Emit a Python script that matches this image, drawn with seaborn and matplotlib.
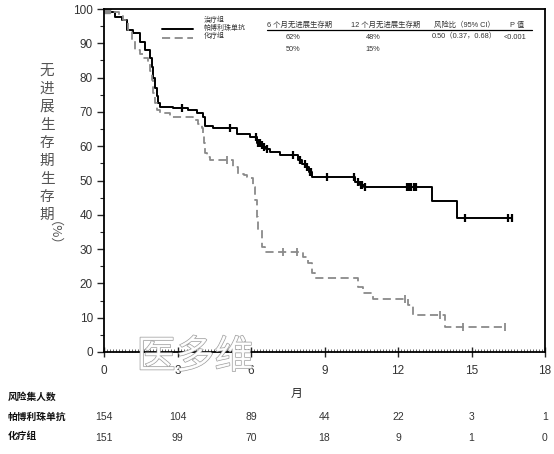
import matplotlib
matplotlib.use("Agg")
import matplotlib.pyplot as plt
import matplotlib.patheffects as pe
from matplotlib.ticker import MultipleLocator
import seaborn as sns

# ---------------- data ----------------
# pembrolizumab arm: KM steps (time in months, PFS %)
pembro_t = [0, 0.24, 0.45, 0.72, 0.93, 1.2, 1.47, 1.67, 1.88, 1.95, 2.0, 2.08, 2.15, 2.2,
            2.29, 2.56, 2.83, 3.44, 3.78, 4.04, 4.12, 4.46, 5.41, 5.96, 6.25, 6.4, 6.5,
            6.6, 6.78, 7.18, 7.9, 8.1, 8.25, 8.35, 8.48, 10.25, 10.45, 10.6, 13.37, 14.4, 16.64]
pembro_s = [100, 99, 97.8, 96.8, 94, 93, 90.5, 88, 85.7, 83, 80, 77, 74.5, 72.5,
            71.5, 71.3, 71, 70.5, 69.6, 68.6, 66, 65.2, 63.7, 62.8, 61, 60.3, 59.8,
            59.2, 58.4, 57.4, 56, 54.8, 53.8, 52.5, 51.1, 49.5, 48.7, 48, 43.9, 39.2, 39.2]
pembro_cens_t = [3.17, 5.14, 6.2, 6.3, 6.35, 6.45, 6.55, 6.65, 7.73, 8.0, 8.2, 8.3, 8.4, 8.45,
                 9.12, 10.2, 10.35, 10.5, 10.55, 10.65, 12.35, 12.45, 12.55, 12.65, 12.75,
                 14.73, 16.5, 16.64]
pembro_cens_s = [71, 65.2, 62.8, 61, 61, 60.3, 59.8, 59.2, 57.4, 56, 54.8, 53.8, 52.5, 52.5,
                 51.1, 51.1, 49.5, 48.7, 48.7, 48, 48, 48, 48, 48, 48,
                 39.2, 39.2, 39.2]

# chemotherapy arm
chemo_t = [0, 0.38, 0.6, 0.79, 0.99, 1.13, 1.27, 1.47, 1.6, 1.81, 1.88, 1.95, 2.0, 2.08,
           2.15, 2.29, 2.69, 3.37, 3.64, 3.85, 3.99, 4.06, 4.1, 4.12, 4.19, 4.33, 5.28,
           5.48, 5.7, 5.85, 5.96, 6.09, 6.16, 6.23, 6.3, 6.44, 6.57, 8.13, 8.34, 8.48,
           8.61, 10.38, 10.58, 10.99, 12.42, 12.62, 13.92, 16.37]
chemo_s = [100, 99.2, 98, 96.8, 94, 91, 88, 87, 85.6, 84.6, 82, 79.3, 75.4, 72.5,
           70.5, 69.6, 68.6, 68.4, 67.6, 66.6, 65.2, 63.7, 61, 57.9, 56.9, 56, 54,
           52, 51.5, 51, 50.6, 48.2, 44.3, 39.5, 35.6, 30.7, 29.3, 27.8, 25.9, 23,
           21.5, 19, 17.1, 15.5, 13.7, 10.8, 7.4, 7.4]
chemo_cens_t = [5.0, 7.32, 7.86, 12.29, 13.71, 14.67, 16.37]
chemo_cens_s = [56, 29.3, 29.3, 15.5, 10.8, 7.4, 7.4]

# number at risk
risk_times = [0, 3, 6, 9, 12, 15, 18]
risk_pembro = [154, 104, 89, 44, 22, 3, 1]
risk_chemo = [151, 99, 70, 18, 9, 1, 0]

group_names = ["帕博利珠单抗", "化疗组"]
col_headers = ["6 个月无进展生存期", "12 个月无进展生存期", "风险比（95% CI）", "P 值"]
pfs6 = ["62%", "50%"]
pfs12 = ["48%", "15%"]
hr_text = "0.50（0.37，0.68）"
p_text = "<0.001"

BLACK = "#000000"
GREY = "#8a8a8a"

# ---------------- figure ----------------
sns.set_theme(style="ticks")
plt.rcParams["font.family"] = ["Liberation Sans", "Noto Sans CJK SC", "DejaVu Sans"]

fig = plt.figure(figsize=(5.54, 4.54), dpi=100)
ax = fig.add_axes([104 / 554, 102 / 454, 441 / 554, 343 / 454])

sns.lineplot(x=pembro_t, y=pembro_s, drawstyle="steps-post", estimator=None, sort=False,
             color=BLACK, linewidth=1.4, ax=ax)
sns.lineplot(x=chemo_t, y=chemo_s, drawstyle="steps-post", estimator=None, sort=False,
             color=GREY, linewidth=1.3, ax=ax)
ax.lines[-1].set_dashes([4.5, 2.5])

ax.plot(pembro_cens_t, pembro_cens_s, linestyle="", marker="|", markersize=6,
        markeredgewidth=1.6, color=BLACK)
ax.plot(chemo_cens_t, chemo_cens_s, linestyle="", marker="|", markersize=6,
        markeredgewidth=1.3, color=GREY)
ax.plot([0.1], [100], linestyle="", marker="s", markersize=6, color=GREY)

ax.set_xlim(0, 18)
ax.set_ylim(0, 100)
ax.set_xticks(risk_times)
ax.set_yticks(range(0, 101, 10))
ax.xaxis.set_minor_locator(MultipleLocator(0.125))
ax.yaxis.set_minor_locator(MultipleLocator(5))
ax.tick_params(axis="x", which="major", direction="inout", length=7, width=1,
               labelsize=8.5, labelcolor="#333333", pad=6)
ax.tick_params(axis="x", which="minor", direction="in", length=2, width=0.5)
ax.tick_params(axis="y", which="major", direction="out", length=5, width=1,
               labelsize=8.5, labelcolor="#333333", pad=3)
ax.tick_params(axis="y", which="minor", direction="out", length=3, width=0.8)
for sp in ax.spines.values():
    sp.set_visible(True)
    sp.set_linewidth(1.3)
    sp.set_color("black")
ax.set_xlabel("")
ax.set_ylabel("")

# y label, vertical characters
fig.text(47 / 554, 1 - 64 / 454, "\n".join("无进展生存期生存期"), ha="center", va="top",
         fontsize=10.5, color="#555555", linespacing=1.36,
         family=["Noto Sans CJK SC", "DejaVu Sans"])
fig.text(47 / 554, 1 - 240 / 454, "（%）", ha="center", va="center", rotation=270,
         fontsize=9.5, color="#555555", family=["Noto Sans CJK SC", "DejaVu Sans"])

# legend block
fs = 5
ax.plot([2.35, 3.65], [94.1, 94.1], color=BLACK, linewidth=1.4)
ax.plot([2.35, 3.65], [91.5, 91.5], color=GREY, linewidth=1.3, dashes=[4.5, 2.5])
ax.text(4.08, 96.6, "治疗组", fontsize=fs, va="center", ha="left", color="#333333")
ax.text(4.08, 94.4, group_names[0], fontsize=fs, va="center", ha="left", color="#333333")
ax.text(4.08, 92.1, group_names[1], fontsize=fs, va="center", ha="left", color="#333333")

fs2 = 5.3
header_x = [8.0, 11.5, 14.72, 16.86]
for hx, h in zip(header_x, col_headers):
    ax.text(hx, 95.3, h, fontsize=fs2, ha="center", va="center", color="#333333")
ax.plot([6.65, 17.47], [93.9, 93.9], color=BLACK, linewidth=0.9)
ax.text(7.71, 91.8, pfs6[0], fontsize=fs2, ha="center", va="center", color="#333333")
ax.text(10.98, 91.8, pfs12[0], fontsize=fs2, ha="center", va="center", color="#333333")
ax.text(14.69, 91.8, hr_text, fontsize=fs2, ha="center", va="center", color="#333333")
ax.text(16.78, 91.8, p_text, fontsize=fs2, ha="center", va="center", color="#333333")
ax.text(7.71, 88.2, pfs6[1], fontsize=fs2, ha="center", va="center", color="#333333")
ax.text(10.98, 88.2, pfs12[1], fontsize=fs2, ha="center", va="center", color="#333333")

# x label and number-at-risk table
tr = ax.get_xaxis_transform()
ax.text(7.84, -0.122, "月", transform=tr, ha="center", va="center", fontsize=8.5,
        color="#222222")
fig.text(8 / 554, 1 - 397 / 454, "风险集人数", ha="left", va="center", fontsize=7,
         fontweight="bold", color="#111111")
fig.text(8 / 554, 1 - 417 / 454, group_names[0], ha="left", va="center", fontsize=7,
         fontweight="bold", color="#111111")
fig.text(8 / 554, 1 - 436 / 454, group_names[1], ha="left", va="center", fontsize=7,
         fontweight="bold", color="#111111")
for t, a, b in zip(risk_times, risk_pembro, risk_chemo):
    ax.text(t, -0.1895, str(a), transform=tr, ha="center", va="center", fontsize=7.5,
            color="#333333")
    ax.text(t, -0.2507, str(b), transform=tr, ha="center", va="center", fontsize=7.5,
            color="#333333")

# watermark
fig.text(195 / 554, 1 - 357 / 454, "医多维", ha="center", va="center", fontsize=28,
         color="white", alpha=0.9, family=["Noto Sans CJK SC", "DejaVu Sans"],
         path_effects=[pe.withStroke(linewidth=0.9, foreground="#8c8c8c")])

fig.savefig("out.png", dpi=100)
